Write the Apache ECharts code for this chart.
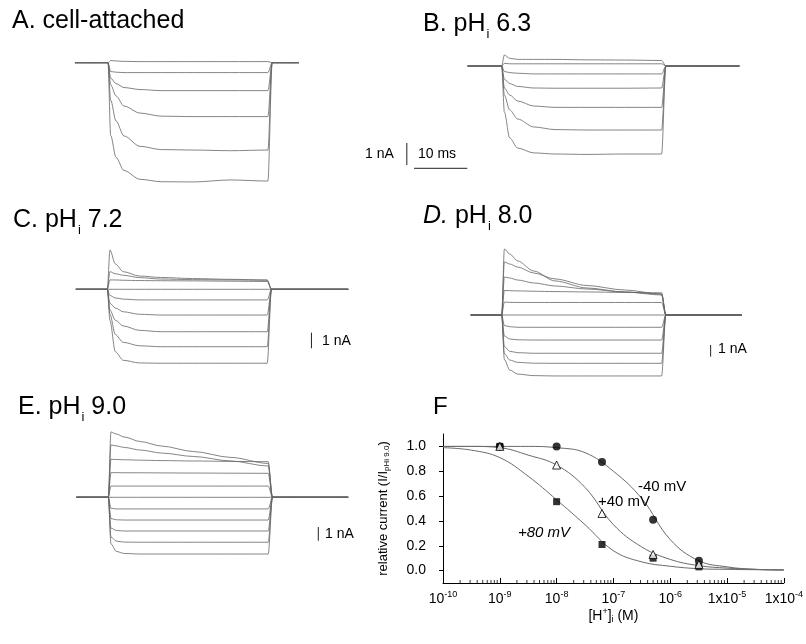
<!DOCTYPE html>
<html>
<head>
<meta charset="utf-8">
<script src="https://cdn.jsdelivr.net/npm/echarts@6/dist/echarts.min.js"></script>
<style>
  html, body { margin: 0; background: #fff; }
  #chart { width: 806px; height: 644px; }
</style>
</head>
<body>
<div id="chart"></div>
<script>
// sample times (ms) after the voltage step onset, shared by every trace
const stepTimes = [0, 0.5, 1.5, 3, 6, 10, 16, 23, 30];

// membrane currents (nA) at stepTimes, one row per test potential
const tracesA = [
  [0, 0.1, 0.08, 0.06, 0.05, 0.05, 0.05, 0.05, 0.05],
  [0, -0.4, -0.43, -0.45, -0.45, -0.45, -0.45, -0.45, -0.45],
  [0, -0.7, -0.95, -1.13, -1.22, -1.27, -1.27, -1.27, -1.27],
  [0, -1.0, -1.51, -1.97, -2.29, -2.43, -2.45, -2.45, -2.45],
  [0, -1.7, -2.65, -3.33, -3.8, -3.95, -3.97, -4.0, -3.97],
  [0, -3.3, -4.3, -4.9, -5.3, -5.41, -5.42, -5.33, -5.38]
];
const tracesB = [
  [0, 0.5, 0.35, 0.3, 0.3, 0.3, 0.28, 0.27, 0.25],
  [0, 0.12, 0.1, 0.1, 0.1, 0.1, 0.1, 0.1, 0.1],
  [0, -0.25, -0.3, -0.33, -0.36, -0.36, -0.36, -0.36, -0.36],
  [0, -0.6, -0.8, -0.93, -1.0, -1.01, -1.01, -1.01, -1.0],
  [0, -1.0, -1.32, -1.59, -1.82, -1.88, -1.88, -1.88, -1.88],
  [0, -1.32, -2.0, -2.41, -2.77, -2.89, -2.91, -2.91, -2.91],
  [0, -2.1, -3.27, -3.73, -3.95, -4.0, -4.02, -4.0, -4.0]
];
const tracesC = [
  [0, 2.52, 1.63, 1.13, 0.85, 0.76, 0.69, 0.64, 0.6],
  [0, 1.13, 1.0, 0.9, 0.75, 0.66, 0.62, 0.6, 0.58],
  [0, 0.6, 0.6, 0.58, 0.56, 0.55, 0.54, 0.52, 0.5],
  [0, 0, 0, 0, 0, 0, 0, 0, 0],
  [0, -0.4, -0.55, -0.63, -0.68, -0.68, -0.68, -0.68, -0.68],
  [0, -0.9, -1.2, -1.44, -1.6, -1.65, -1.65, -1.65, -1.65],
  [0, -1.33, -1.98, -2.35, -2.63, -2.72, -2.72, -2.72, -2.72],
  [0, -1.6, -2.9, -3.4, -3.62, -3.68, -3.68, -3.68, -3.68],
  [0, -2.0, -4.0, -4.55, -4.72, -4.74, -4.74, -4.74, -4.74]
];
const tracesD = [
  [0, 5.64, 5.21, 4.62, 3.76, 2.91, 2.31, 1.97, 1.71],
  [0, 4.53, 4.36, 4.1, 3.59, 3.08, 2.52, 2.14, 1.79],
  [0, 3.25, 3.16, 2.99, 2.74, 2.48, 2.22, 1.97, 1.79],
  [0, 2.1, 2.08, 2.06, 2.03, 2.0, 1.97, 1.93, 1.9],
  [0, 1.1, 1.08, 1.07, 1.07, 1.07, 1.07, 1.07, 1.07],
  [0, 0, 0, 0, 0, 0, 0, 0, 0],
  [0, -0.9, -1.0, -1.05, -1.05, -1.05, -1.05, -1.05, -1.05],
  [0, -1.8, -2.05, -2.12, -2.14, -2.14, -2.14, -2.14, -2.14],
  [0, -2.7, -3.1, -3.22, -3.27, -3.27, -3.27, -3.27, -3.27],
  [0, -3.3, -3.85, -4.05, -4.12, -4.13, -4.13, -4.13, -4.13],
  [0, -3.8, -4.7, -5.05, -5.18, -5.21, -5.21, -5.21, -5.21]
];
const tracesE = [
  [0, 4.77, 4.62, 4.4, 4.07, 3.74, 3.34, 2.91, 2.47],
  [0, 3.82, 3.75, 3.64, 3.45, 3.23, 2.98, 2.65, 2.28],
  [0, 2.77, 2.76, 2.74, 2.71, 2.68, 2.65, 2.62, 2.6],
  [0, 1.8, 1.8, 1.79, 1.79, 1.78, 1.77, 1.76, 1.75],
  [0, 0.82, 0.82, 0.82, 0.82, 0.82, 0.82, 0.82, 0.82],
  [0, 0, 0, 0, 0, 0, 0, 0, 0],
  [0, -0.8, -0.85, -0.85, -0.85, -0.85, -0.85, -0.85, -0.85],
  [0, -1.55, -1.64, -1.66, -1.66, -1.66, -1.66, -1.66, -1.66],
  [0, -2.25, -2.42, -2.46, -2.46, -2.46, -2.46, -2.46, -2.46],
  [0, -2.9, -3.2, -3.27, -3.28, -3.28, -3.28, -3.28, -3.28],
  [0, -3.4, -3.95, -4.1, -4.14, -4.14, -4.14, -4.14, -4.14]
];

// panel F: [H+]i (M) and relative current I/I(pHi 9.0)
const hConc = [1e-9, 1e-8, 6.3e-8, 5e-7, 3.2e-6];
const relMinus40 = [1.0, 1.0, 0.875, 0.41, 0.08];
const relPlus40 = [1.0, 0.85, 0.46, 0.13, 0.05];
const relPlus80 = [1.0, 0.555, 0.21, 0.10, 0.03];

// fitted curves
const fitConc = [1e-10, 3.16e-10, 1e-9, 3.16e-9, 1e-8, 3.16e-8, 1e-7, 3.16e-7, 1e-6, 3.16e-6, 1e-5, 3.16e-5, 1e-4];
const fitMinus40 = [1.0, 1.0, 1.0, 1.0, 0.99, 0.95, 0.8, 0.58, 0.25, 0.08, 0.03, 0.01, 0.005];
const fitPlus40 = [1.0, 1.0, 0.99, 0.93, 0.85, 0.67, 0.37, 0.19, 0.09, 0.04, 0.02, 0.01, 0.005];
const fitPlus80 = [0.99, 0.97, 0.91, 0.76, 0.57, 0.37, 0.16, 0.07, 0.035, 0.015, 0.01, 0.007, 0.005];

const xTickLabels = ['10^-10', '10^-9', '10^-8', '10^-7', '10^-6', '1x10^-5', '1x10^-4'];
const yTickValues = [0, 0.2, 0.4, 0.6, 0.8, 1.0];

const FONT = '"Liberation Sans", Arial, sans-serif';
const PX_PER_MS = 5.33;

const chartDom = document.getElementById('chart');
const myChart = echarts.init(chartDom);

// layout of the five current-trace panels (pixels)
const panels = [
  { title: 'A. cell-attached', tx: 12, ty: 21, rect: [60, 45, 310, 195], x0: 108, y0: 62.7, pxPerNA: 22, pre: 6.2, post: 35.8, traces: tracesA },
  { title: 'B. pH{sub|i} 6.3', tx: 423, ty: 24, rect: [400, 45, 745, 180], x0: 501.7, y0: 66, pxPerNA: 22, pre: 6.4, post: 44.6, traces: tracesB,
    bar: { t: -17.8, i: -3.5, hbar: { t: -16.45, i: -4.65 } } },
  { title: 'C. pH{sub|i} 7.2', tx: 13, ty: 220, rect: [60, 240, 360, 375], x0: 107.3, y0: 289.3, pxPerNA: 15.6, pre: 5.9, post: 45.2, traces: tracesC,
    bar: { t: 38.3, i: -2.78 } },
  { title: '{it|D.} pH{sub|i} 8.0', tx: 423, ty: 216, rect: [460, 235, 760, 385], x0: 501.7, y0: 315, pxPerNA: 11.7, pre: 5.8, post: 45, traces: tracesD,
    bar: { t: 39.2, i: -2.56 } },
  { title: 'E. pH{sub|i} 9.0', tx: 18, ty: 407, rect: [60, 425, 360, 565], x0: 108.3, y0: 497.3, pxPerNA: 13.7, pre: 6, post: 45, traces: tracesE,
    bar: { t: 39.4, i: -2.17 } }
];

const grids = [], xAxes = [], yAxes = [], series = [];

panels.forEach((p, k) => {
  const [l, t, r, b] = p.rect;
  grids.push({ left: l, top: t, width: r - l, height: b - t });
  xAxes.push({ gridIndex: k, type: 'value', show: false,
    min: (l - p.x0) / PX_PER_MS, max: (r - p.x0) / PX_PER_MS });
  yAxes.push({ gridIndex: k, type: 'value', show: false,
    min: (p.y0 - b) / p.pxPerNA, max: (p.y0 - t) / p.pxPerNA });

  p.traces.forEach(row => {
    const data = [[-p.pre, 0]].concat(stepTimes.map((tm, i) => [tm, row[i]]));
    data.push([30.8, 0], [p.post, 0]);
    series.push({
      type: 'line', xAxisIndex: k, yAxisIndex: k, data,
      symbol: 'none', smooth: 0.3, smoothMonotone: 'x', silent: true,
      lineStyle: { color: '#666', width: 0.8 }
    });
  });

  // scale bars: 1 nA (and 10 ms for A/B)
  if (p.bar) {
    series.push({
      type: 'line', xAxisIndex: k, yAxisIndex: k, symbol: 'none', silent: true,
      data: [[p.bar.t, p.bar.i], [p.bar.t, p.bar.i - 1]],
      lineStyle: { color: '#222', width: 1 }
    });
    if (p.bar.hbar) {
      series.push({
        type: 'line', xAxisIndex: k, yAxisIndex: k, symbol: 'none', silent: true,
        data: [[p.bar.hbar.t, p.bar.hbar.i], [p.bar.hbar.t + 10, p.bar.hbar.i]],
        lineStyle: { color: '#222', width: 1 }
      });
    }
  }
});

// panel F
const F = panels.length;
grids.push({ left: 443, top: 434, right: 19, bottom: 61 });

const xTickValues = xTickLabels.map((s, i) => Math.pow(10, i - 10));
xAxes.push({
  gridIndex: F, type: 'log', logBase: 10, min: 1e-10, max: 1e-4,
  axisLine: { show: true, onZero: false, lineStyle: { color: '#000', width: 1 } },
  axisTick: { show: true, inside: true, length: 5, customValues: xTickValues, lineStyle: { color: '#000' } },
  axisLabel: {
    customValues: xTickValues, color: '#000', fontFamily: FONT, fontSize: 14, margin: 7,
    formatter: v => {
      const lab = xTickLabels[Math.round(Math.log10(v)) + 10];
      const parts = lab.split('^');
      return parts[0] + '{sup|' + parts[1] + '}';
    },
    rich: { sup: { fontSize: 9, fontFamily: FONT, color: '#000', padding: [0, 0, 9, 0] } }
  },
  splitLine: { show: false },
  name: '[H{sup|+}]{sub|i} (M)', nameLocation: 'middle', nameGap: 24,
  nameTextStyle: {
    color: '#000', fontFamily: FONT, fontSize: 14,
    rich: {
      sup: { fontSize: 9, fontFamily: FONT, color: '#000', padding: [0, 0, 9, 0] },
      sub: { fontSize: 9, fontFamily: FONT, color: '#000', padding: [8, 0, 0, 0] }
    }
  }
});
yAxes.push({
  gridIndex: F, type: 'value', min: -0.1, max: 1.1,
  axisLine: { show: true, onZero: false, lineStyle: { color: '#000', width: 1 } },
  axisTick: { show: true, length: 4, customValues: yTickValues, lineStyle: { color: '#000' } },
  axisLabel: { customValues: yTickValues, color: '#000', fontFamily: FONT, fontSize: 14, margin: 17,
    formatter: v => v.toFixed(1) },
  splitLine: { show: false },
  name: 'relative current (I/I{sub|pHi 9.0})', nameLocation: 'middle', nameGap: 52, nameRotate: 90,
  nameTextStyle: {
    color: '#000', fontFamily: FONT, fontSize: 13,
    rich: { sub: { fontSize: 8, fontFamily: FONT, color: '#000', padding: [7, 0, 0, 0] } }
  }
});

// log minor ticks (2..9 within each decade), drawn as tiny marks on the x axis
const minorTicks = [];
for (let d = -10; d < -4; d++) {
  for (let m = 2; m <= 9; m++) minorTicks.push([m * Math.pow(10, d), -0.1]);
}
series.push({
  type: 'scatter', xAxisIndex: F, yAxisIndex: F, data: minorTicks, silent: true,
  symbol: 'rect', symbolSize: [1, 3], symbolOffset: [0, -1.5],
  itemStyle: { color: '#000' }, z: 5
});

const fitStyle = { color: '#6a6a6a', width: 1 };
[fitMinus40, fitPlus40, fitPlus80].forEach(fit => {
  series.push({
    type: 'line', xAxisIndex: F, yAxisIndex: F, symbol: 'none', smooth: 0.4, silent: true,
    data: fitConc.map((c, i) => [c, fit[i]]), lineStyle: fitStyle
  });
});

series.push({
  name: '-40 mV', type: 'scatter', xAxisIndex: F, yAxisIndex: F, symbol: 'circle', symbolSize: 8,
  data: hConc.map((c, i) => [c, relMinus40[i]]), itemStyle: { color: '#000' }, z: 4
});
series.push({
  name: '+80 mV', type: 'scatter', xAxisIndex: F, yAxisIndex: F, symbol: 'rect', symbolSize: 7,
  data: hConc.map((c, i) => [c, relPlus80[i]]), itemStyle: { color: '#000' }, z: 4
});
series.push({
  name: '+40 mV', type: 'scatter', xAxisIndex: F, yAxisIndex: F, symbol: 'triangle', symbolSize: 8,
  data: hConc.map((c, i) => [c, relPlus40[i]]),
  itemStyle: { color: '#fff', borderColor: '#000', borderWidth: 1 }, z: 4
});

const titleRich = {
  sub: { fontSize: 13, fontFamily: FONT, fill: '#000', padding: [20, 0, 0, 1] },
  it: { fontSize: 25, fontFamily: FONT, fontStyle: 'italic', fill: '#000' }
};
const text = (x, y, str, size, extra) => ({
  type: 'text', z: 10, silent: true,
  style: Object.assign({ x, y, text: str, fill: '#000', fontFamily: FONT, fontSize: size,
    verticalAlign: 'middle', align: 'left' }, extra || {})
});

const graphic = [];
panels.forEach(p => graphic.push(text(p.tx, p.ty, p.title, 25, { rich: titleRich })));
graphic.push(
  text(365, 154, '1 nA', 14),
  text(418, 154, '10 ms', 14),
  text(322, 341, '1 nA', 14),
  text(718, 349, '1 nA', 14),
  text(325, 534, '1 nA', 14),
  text(433, 407, 'F', 24),
  text(638, 487, '-40 mV', 15),
  text(598, 502, '+40 mV', 15),
  text(518, 533, '+80 mV', 15, { fontStyle: 'italic' })
);

const option = {
  animation: false,
  backgroundColor: '#fff',
  grid: grids,
  xAxis: xAxes,
  yAxis: yAxes,
  series,
  graphic
};

myChart.setOption(option);
window.addEventListener('resize', () => myChart.resize());
</script>
</body>
</html>
